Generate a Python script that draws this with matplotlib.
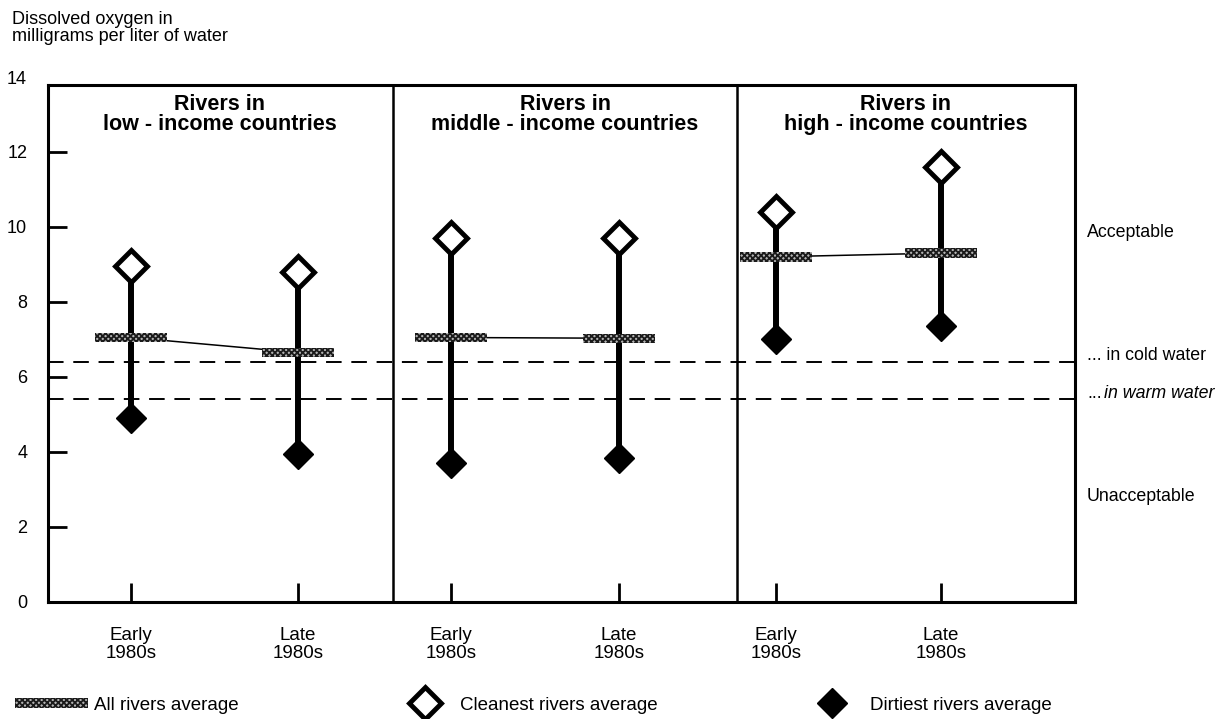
import matplotlib.pyplot as plt
from matplotlib.patches import Patch
from matplotlib.lines import Line2D

plt.rcParams['font.family'] = ['Liberation Sans', 'DejaVu Sans']
plt.rcParams['hatch.linewidth'] = 1.3

# data (mg of dissolved oxygen per liter)
panels = ['Rivers in\nlow - income countries',
          'Rivers in\nmiddle - income countries',
          'Rivers in\nhigh - income countries']
periods = ['Early\n1980s', 'Late\n1980s']
cleanest = [[8.95, 8.8], [9.7, 9.7], [10.4, 11.6]]
dirtiest = [[4.9, 3.95], [3.7, 3.85], [7.0, 7.35]]
average = [[7.05, 6.65], [7.05, 7.03], [9.2, 9.3]]
cold_water = 6.4
warm_water = 5.42

# layout (x in pixel-like units across the frame)
x_pos = [[83, 250], [403, 571], [728, 893]]
dividers = [345, 689]
panel_mid = [172, 517, 858]

fig = plt.figure(figsize=(12.24, 7.19), dpi=100)
ax = fig.add_axes([48 / 1224, 117 / 719, 1027 / 1224, 517 / 719])
ax.set_xlim(0, 1027)
ax.set_ylim(0, 13.78)

bar_style = dict(facecolor='#b4b4b4', edgecolor='#1a1a1a', hatch='xxxxxx', lw=0)

for i in range(3):
    xs = x_pos[i]
    # thin line joining the averages
    ax.plot(xs, average[i], color='black', lw=1.1, zorder=2)
    for j in range(2):
        ax.plot([xs[j], xs[j]], [dirtiest[i][j], cleanest[i][j]],
                color='black', lw=4.3, zorder=3, solid_capstyle='butt')
        ax.bar(xs[j], 0.25, bottom=average[i][j] - 0.125, width=72,
               zorder=4, **bar_style)
        ax.plot(xs[j], cleanest[i][j], marker='D', ms=16, mfc='white',
                mec='black', mew=3.5, zorder=5)
        ax.plot(xs[j], dirtiest[i][j], marker='D', ms=15, mfc='black',
                mec='black', mew=1, zorder=5)
    ax.text(panel_mid[i], 13.55, panels[i], ha='center', va='top',
            fontsize=15.5, fontweight='bold', linespacing=0.95)

for d in dividers:
    ax.axvline(d, color='black', lw=1.8, zorder=1)

for lvl in [cold_water, warm_water]:
    ax.axhline(lvl, color='black', lw=1.4, dashes=(8, 5), zorder=1)

for s in ax.spines.values():
    s.set_linewidth(2.2)

ax.set_yticks(range(0, 13, 2))
ax.set_yticklabels([str(v) for v in range(0, 13, 2)])
ax.tick_params(axis='y', direction='in', length=14, width=2, pad=15,
               labelsize=13)
ax.yaxis.get_major_ticks()[0].tick1line.set_visible(False)
ax.text(-21, 13.92, '14', ha='right', va='center', fontsize=13)

ax.set_xticks([p for xs in x_pos for p in xs])
ax.set_xticklabels(periods * 3, linespacing=1.05)
ax.tick_params(axis='x', direction='in', length=14, width=2, pad=18,
               labelsize=13.5)

# right side annotations
ax.text(1039, 9.84, 'Acceptable', ha='left', va='center', fontsize=12.8,
        clip_on=False)
ax.text(1039, 6.56, '... in cold water', ha='left', va='center',
        fontsize=12.8, clip_on=False)
ax.text(1039, 5.57, '...', ha='left', va='center', fontsize=12.8,
        clip_on=False)
ax.text(1056, 5.57, 'in warm water', ha='left', va='center', fontsize=12.8,
        style='italic', clip_on=False)
ax.text(1039, 2.8, 'Unacceptable', ha='left', va='center', fontsize=12.8,
        clip_on=False)

fig.text(12 / 1224, 1 - 11 / 719, 'Dissolved oxygen in\nmilligrams per liter of water',
         ha='left', va='top', fontsize=13, linespacing=1.0)

# legend, three separate entries spread across the bottom
h_avg = Patch(**bar_style)
h_clean = Line2D([], [], ls='none', marker='D', ms=16, mfc='white',
                 mec='black', mew=3.5)
h_dirty = Line2D([], [], ls='none', marker='D', ms=15, mfc='black', mec='black')
leg_y = 1 - 705 / 719
common = dict(loc='center left', frameon=False, fontsize=13.5,
              borderpad=0, borderaxespad=0)
fig.legend([h_avg], ['All rivers average'], bbox_to_anchor=(15 / 1224, leg_y),
           handlelength=3.9, handleheight=0.5, handletextpad=0.3, **common)
fig.legend([h_clean], ['Cleanest rivers average'],
           bbox_to_anchor=(410 / 1224, leg_y),
           handlelength=1.6, handletextpad=1.07, **common)
fig.legend([h_dirty], ['Dirtiest rivers average'],
           bbox_to_anchor=(817 / 1224, leg_y),
           handlelength=1.6, handletextpad=1.23, **common)

fig.savefig('out.png', dpi=100)
